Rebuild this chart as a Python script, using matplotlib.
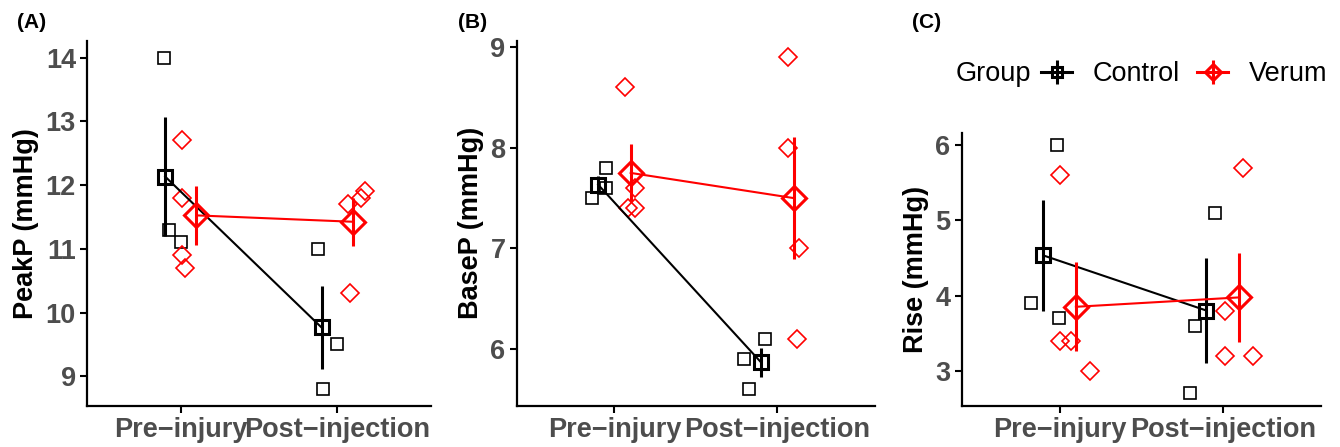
import numpy as np
import matplotlib
matplotlib.use("Agg")
import matplotlib.pyplot as plt
from matplotlib.lines import Line2D

plt.rcParams['font.family'] = ['Liberation Sans', 'DejaVu Sans']

timepoints = ['Pre\u2212injury', 'Post\u2212injection']
groups = ['Control', 'Verum']
group_colors = ['black', '#FF0000']

# PeakP (mmHg)
peak_ctrl_pre = [14.0, 11.3, 11.1]
peak_ctrl_post = [11.0, 9.5, 8.8]
peak_ver_pre = [12.7, 11.8, 10.9, 10.7]
peak_ver_post = [11.7, 11.8, 11.9, 10.3]

# BaseP (mmHg)
base_ctrl_pre = [7.5, 7.8, 7.6]
base_ctrl_post = [5.9, 6.1, 5.6]
base_ver_pre = [8.6, 7.6, 7.4, 7.4]
base_ver_post = [8.9, 8.0, 7.0, 6.1]

# Rise (mmHg)
rise_ctrl_pre = [6.0, 3.9, 3.7]
rise_ctrl_post = [5.1, 3.6, 2.7]
rise_ver_pre = [5.6, 3.4, 3.4, 3.0]
rise_ver_post = [5.7, 3.8, 3.2, 3.2]

# horizontal jitter of the single points
peak_jit_ctrl_pre = [-0.106, -0.078, 0.0]
peak_jit_ctrl_post = [-0.12, -0.004, -0.093]
peak_jit_ver_pre = [0.01, 0.01, 0.01, 0.025]
peak_jit_ver_post = [0.07, 0.155, 0.176, 0.085]

base_jit_ctrl_pre = [-0.136, -0.049, -0.051]
base_jit_ctrl_post = [-0.203, -0.075, -0.172]
base_jit_ver_pre = [0.063, 0.124, 0.083, 0.124]
base_jit_ver_post = [0.067, 0.067, 0.132, 0.122]

rise_jit_ctrl_pre = [-0.016, -0.173, -0.006]
rise_jit_ctrl_post = [-0.047, -0.173, -0.2]
rise_jit_ver_pre = [0.004, 0.0, 0.071, 0.184]
rise_jit_ver_post = [0.122, 0.014, 0.014, 0.184]

dodge = [-0.1, 0.1]
markers = ['s', 'D']
point_ms = [8, 9.5]
mean_ms = [9.5, 12]
key_ms = [7.5, 8.5]
tick_grey = '#4D4D4D'


def draw_panel(ax, data, jitters, ylabel, yticks):
    allvals = []
    for g in range(2):
        color = group_colors[g]
        pre, post = data[g]
        jpre, jpost = jitters[g]
        for t, (vals, jit) in enumerate([(pre, jpre), (post, jpost)]):
            ax.plot(t + 1 + np.array(jit), vals, ls='none', marker=markers[g],
                    ms=point_ms[g], mfc='none', mec=color, mew=1.2, zorder=2)
            allvals += vals
        means = np.array([np.mean(pre), np.mean(post)])
        se = np.array([np.std(pre, ddof=1) / np.sqrt(len(pre)),
                       np.std(post, ddof=1) / np.sqrt(len(post))])
        x = np.array([1, 2]) + dodge[g]
        ax.plot(x, means, color=color, lw=1.5, zorder=3)
        ax.errorbar(x, means, yerr=se, fmt='none', ecolor=color,
                    elinewidth=2.2, capsize=0, zorder=3)
        ax.plot(x, means, ls='none', marker=markers[g], ms=mean_ms[g],
                mfc='none', mec=color, mew=2.2, zorder=4)
        allvals += list(means + se) + list(means - se)
    lo, hi = min(allvals), max(allvals)
    pad = 0.05 * (hi - lo)
    ax.set_ylim(lo - pad, hi + pad)
    ax.set_xlim(0.4, 2.6)
    ax.set_xticks([1, 2])
    ax.set_xticklabels(timepoints, fontsize=19.5, fontweight='bold', color=tick_grey)
    ax.set_yticks(yticks)
    ax.set_yticklabels([str(v) for v in yticks], fontsize=19.5,
                       fontweight='bold', color=tick_grey)
    ax.set_ylabel(ylabel, fontsize=19.5, fontweight='bold', labelpad=5)
    ax.spines[['top', 'right']].set_visible(False)
    ax.spines[['left', 'bottom']].set_linewidth(1.6)
    ax.tick_params(length=5, width=1.5, pad=3)


fig = plt.figure(figsize=(13.4, 4.47), dpi=100)
W, H = 1340, 447


def px_axes(left, top, right, bottom):
    return fig.add_axes([left / W, 1 - bottom / H, (right - left) / W, (bottom - top) / H])


ax_a = px_axes(87, 41, 431, 405.7)
ax_b = px_axes(516.7, 40.7, 875, 405.7)
ax_c = px_axes(961.7, 132.7, 1320.7, 405.7)

draw_panel(ax_a,
           [(peak_ctrl_pre, peak_ctrl_post), (peak_ver_pre, peak_ver_post)],
           [(peak_jit_ctrl_pre, peak_jit_ctrl_post), (peak_jit_ver_pre, peak_jit_ver_post)],
           'PeakP (mmHg)', [9, 10, 11, 12, 13, 14])
draw_panel(ax_b,
           [(base_ctrl_pre, base_ctrl_post), (base_ver_pre, base_ver_post)],
           [(base_jit_ctrl_pre, base_jit_ctrl_post), (base_jit_ver_pre, base_jit_ver_post)],
           'BaseP (mmHg)', [6, 7, 8, 9])
draw_panel(ax_c,
           [(rise_ctrl_pre, rise_ctrl_post), (rise_ver_pre, rise_ver_post)],
           [(rise_jit_ctrl_pre, rise_jit_ctrl_post), (rise_jit_ver_pre, rise_jit_ver_post)],
           'Rise (mmHg)', [3, 4, 5, 6])

for label, xpx in [('(A)', 17), ('(B)', 458), ('(C)', 912)]:
    fig.text(xpx / W, 1 - 22 / H, label, fontsize=15, fontweight='bold',
             ha='left', va='center')

# legend
handles = []
for g in range(2):
    c = group_colors[g]
    handles.append((Line2D([], [], color=c, lw=2.2),
                    Line2D([], [], ls='none', marker='|', ms=17, mew=2.2, color=c),
                    Line2D([], [], ls='none', marker=markers[g], ms=key_ms[g],
                           mfc='none', mec=c, mew=2.2)))
fig.text(956 / W, 1 - 74 / H, 'Group', fontsize=19.5, ha='left', va='center')
fig.legend(handles, groups, ncol=2, loc='center left',
           bbox_to_anchor=(1041 / W, 1 - 74 / H), frameon=False, fontsize=19.5,
           handlelength=1.15, handletextpad=0.75, columnspacing=0.65,
           borderpad=0, borderaxespad=0)

fig.savefig('out.png', dpi=100)
